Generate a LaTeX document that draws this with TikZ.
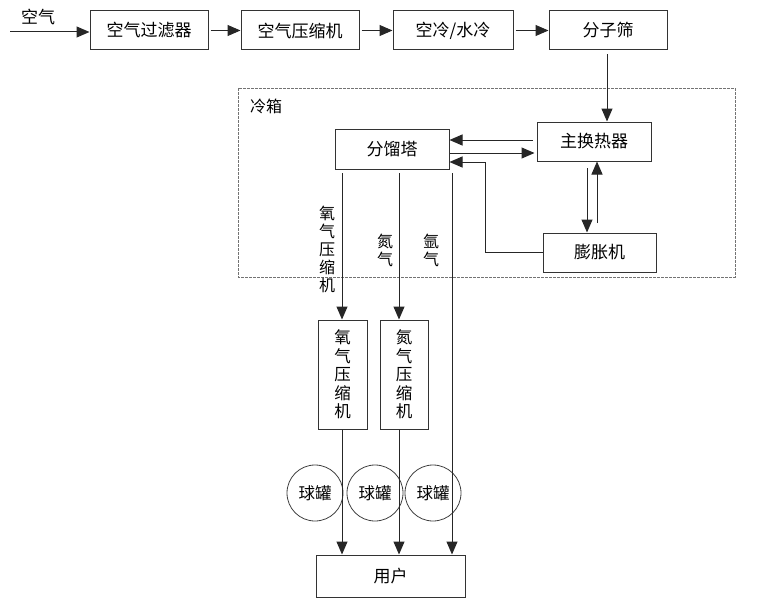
\documentclass[tikz,border=0pt]{standalone}
\usepackage{fontspec}
\setmainfont{Noto Sans CJK SC}
\usetikzlibrary{arrows.meta}

\begin{document}
\begin{tikzpicture}[x=1pt,y=-1pt,
    box/.style={draw=black!80, line width=1pt, minimum width=118pt,
        minimum height=39pt, inner sep=0pt, font=\fontsize{17}{19}\selectfont},
    tall/.style={box, minimum width=49pt, minimum height=109pt,
        align=center, font=\fontsize{16.5}{18.5}\selectfont},
    tank/.style={circle, draw=black!75, line width=0.8pt, minimum size=56pt,
        inner sep=0pt, font=\fontsize{16.5}{18}\selectfont},
    flow/.style={draw=black!85, line width=1pt, -{Triangle[length=13pt,width=11pt]}},
    vlabel/.style={align=center, inner sep=0pt, font=\fontsize{16}{18}\selectfont}]
\useasboundingbox (0,0) rectangle (775,607);

% the air line along the top
\node (air) at (38,17) {\fontsize{17}{19}\selectfont 空气};
\coordinate (airin) at (10,32);
\node[box] (filt)  at (149,30.5) {空气过滤器};
\node[box] (comp)  at (300,30.5) {空气压缩机};
\node[box, minimum width=120pt] (cool) at (453,30.5) {空冷/水冷};
\node[box] (sieve) at (608,30.5) {分子筛};

\draw[flow] (airin) -- (airin -| filt.west);
\draw[flow] ([xshift=2pt]filt.east) -- (comp.west);
\draw[flow] ([xshift=2pt]comp.east) -- (cool.west);
\draw[flow] ([xshift=2pt]cool.east) -- (sieve.west);

% the cold box, dashed
\draw[gray!90!black, line width=0.9pt, dash pattern=on 3pt off 1pt]
    (238,88) rectangle (735,277);
\node (coldbox) at (266,106) {\fontsize{16}{18}\selectfont 冷箱};

% inside the cold box
\node[box, minimum width=114pt, minimum height=40pt] (frac) at (392,149) {分馏塔};
\node[box, minimum width=114pt] (mhx)  at (594,141.5) {主换热器};
\node[box, minimum width=113pt] (expd) at (599.5,252.5) {膨胀机};

\draw[flow] ([yshift=-4pt]sieve.south -| 607,0) -- (607,0 |- mhx.north);
\draw[flow] ([xshift=-4pt]mhx.west |- 0,140) -- (frac.east |- 0,140);
\draw[flow] (frac.east |- 0,153) -- ([xshift=-2pt]mhx.west |- 0,153);
\draw[flow] (expd.west) -| (485,162) -- (frac.east |- 0,162);
\draw[flow] (587,168) -- (587,0 |- expd.north);
\draw[flow] (597,223) -- (597,0 |- mhx.south);

% product lines out of the column
\coordinate (oxy) at (342,173);
\coordinate (nit) at (399,173);
\coordinate (arg) at (452,173);
\node[vlabel] (oxylab) at (327,249) {氧\\气\\压\\缩\\机};
\node[vlabel] (nitlab) at (385,250) {氮\\气};
\node[vlabel] (arglab) at (431,250) {氩\\气};

\node[tall] (ocomp) at (342.5,374.5) {氧\\气\\压\\缩\\机};
\node[tall, minimum width=48pt] (ncomp) at (404,374.5) {氮\\气\\压\\缩\\机};
\node[box, minimum width=149pt, minimum height=42pt] (user) at (390.5,576) {用户};

\node[tank] (tank1) at (315,493) {球罐};
\node[tank] (tank2) at (375,493) {球罐};
\node[tank] (tank3) at (433,493) {球罐};

\draw[flow] (oxy) -- (oxy |- ocomp.north);
\draw[flow] (nit) -- (nit |- ncomp.north);
\draw[flow] (oxy |- ocomp.south) -- (oxy |- user.north);
\draw[flow] (nit |- ncomp.south) -- (nit |- user.north);
\draw[flow] (arg) -- (arg |- user.north);
\end{tikzpicture}
\end{document}
